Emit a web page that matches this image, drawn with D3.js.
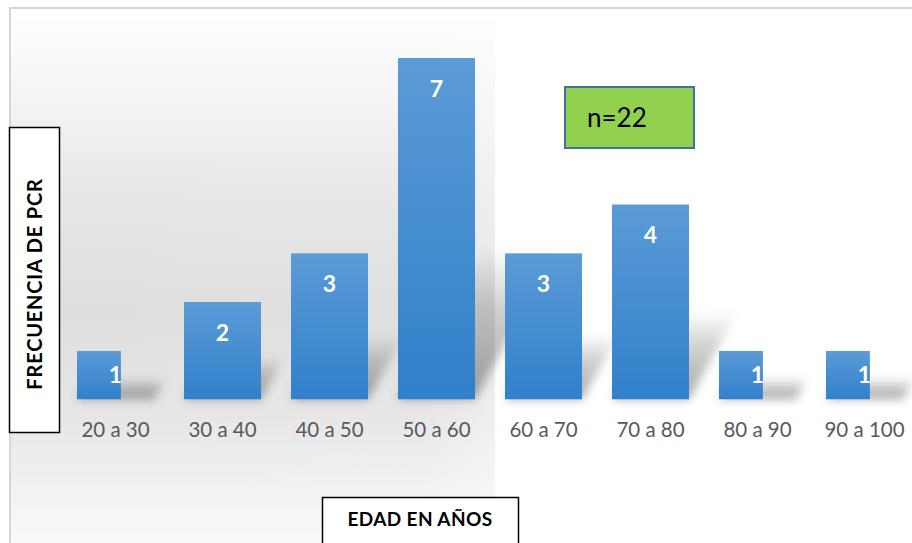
<!DOCTYPE html>
<html>
<head>
<meta charset="utf-8">
<script src="https://cdn.jsdelivr.net/npm/d3@7"></script>
<style>
  html, body { margin: 0; padding: 0; background: #fff; }
  svg { display: block; }
</style>
</head>
<body>
<svg id="chart" width="912" height="543"></svg>
<script>
// Age groups and PCR counts per group
const categories = ["20 a 30", "30 a 40", "40 a 50", "50 a 60", "60 a 70", "70 a 80", "80 a 90", "90 a 100"];
const frequencies = [1, 2, 3, 7, 3, 4, 1, 1];
const sampleLabel = "n=22";
const yTitle = "FRECUENCIA DE PCR";
const xTitle = "EDAD EN AÑOS";

const svg = d3.select("#chart");
const defs = svg.append("defs");

// Backdrop panel gradient (light at the top, darker mid-height, fading down)
const panelGrad = defs.append("linearGradient")
  .attr("id", "panelGrad").attr("x1", 0).attr("y1", 0).attr("x2", 0).attr("y2", 1);
[[0, "#fefefe"], [0.12, "#f6f6f6"], [0.35, "#e6e6e6"], [0.55, "#dedede"], [0.75, "#e6e6e6"], [0.88, "#f1f1f1"], [1, "#fbfbfb"]]
  .forEach(([o, c]) => panelGrad.append("stop").attr("offset", o).attr("stop-color", c));

const panelSide = defs.append("linearGradient")
  .attr("id", "panelSide").attr("x1", 0).attr("y1", 0).attr("x2", 1).attr("y2", 0);
[[0, "#fff", 0], [0.85, "#fff", 0.05], [1, "#fff", 0.35]]
  .forEach(([o, c, a]) => panelSide.append("stop").attr("offset", o).attr("stop-color", c).attr("stop-opacity", a));

// Bar fill
const barGrad = defs.append("linearGradient")
  .attr("id", "barGrad").attr("x1", 0).attr("y1", 0).attr("x2", 0).attr("y2", 1);
barGrad.append("stop").attr("offset", 0).attr("stop-color", "#5b9bd6");
barGrad.append("stop").attr("offset", 1).attr("stop-color", "#3180cb");

// Cast shadow fill, fading upward
const shadowGrad = defs.append("linearGradient")
  .attr("id", "shadowGrad").attr("x1", 0).attr("y1", 1).attr("x2", 0).attr("y2", 0);
shadowGrad.append("stop").attr("offset", 0).attr("stop-color", "#000").attr("stop-opacity", 0.34);
shadowGrad.append("stop").attr("offset", 0.6).attr("stop-color", "#000").attr("stop-opacity", 0.18);
shadowGrad.append("stop").attr("offset", 1).attr("stop-color", "#000").attr("stop-opacity", 0);

defs.append("filter").attr("id", "soft").attr("x", "-50%").attr("y", "-50%").attr("width", "200%").attr("height", "200%")
  .append("feGaussianBlur").attr("stdDeviation", 5);

// Outer frame
svg.append("rect").attr("x", 10).attr("y", 8).attr("width", 920).attr("height", 560)
  .attr("fill", "#fff").attr("stroke", "#d6d6d6").attr("stroke-width", 2);

// Shaded backdrop behind the left part of the plot
svg.append("rect").attr("x", 11).attr("y", 20).attr("width", 484).attr("height", 530).attr("fill", "url(#panelGrad)");
svg.append("rect").attr("x", 11).attr("y", 20).attr("width", 484).attr("height", 530).attr("fill", "url(#panelSide)");

// Scales
const x = d3.scaleBand().domain(categories).range([62, 918]).paddingInner(0.28).paddingOuter(0.14);
const y = d3.scaleLinear().domain([0, 7]).range([399.5, 58]);
const bw = x.bandwidth();
const base = y(0);

const data = categories.map((c, i) => ({ cat: c, val: frequencies[i], i }));
const minVal = d3.min(frequencies);
// single-count bars are rendered cut short on the right
const visibleWidth = d => d.val === minVal ? bw * 0.57 : bw;

// Perspective shadows
const shRise = 0.45, shShift = 0.25;
svg.append("g").selectAll("path").data(data).join("path")
  .attr("d", d => {
    const x0 = x(d.cat), x1 = x0 + bw, h = base - y(d.val);
    const dx = h * shShift, dy = h * shRise;
    return `M${x0},${base} L${x1},${base} L${x1 + dx},${base - dy} L${x0 + dx},${base - dy} Z`;
  })
  .attr("fill", "url(#shadowGrad)")
  .attr("filter", "url(#soft)");

// Clip regions for each bar
data.forEach(d => {
  defs.append("clipPath").attr("id", "clip" + d.i)
    .append("rect")
    .attr("x", x(d.cat)).attr("y", y(d.val))
    .attr("width", visibleWidth(d)).attr("height", base - y(d.val));
});

const barG = svg.append("g").selectAll("g").data(data).join("g")
  .attr("clip-path", d => `url(#clip${d.i})`);

barG.append("rect")
  .attr("x", d => x(d.cat)).attr("y", d => y(d.val))
  .attr("width", bw).attr("height", d => base - y(d.val))
  .attr("fill", "url(#barGrad)");

// Value labels inside the bars
barG.append("text")
  .attr("x", d => x(d.cat) + bw / 2)
  .attr("y", d => Math.min(y(d.val) + 39, (y(d.val) + base) / 2 + 8))
  .attr("text-anchor", "middle")
  .attr("font-family", "Lato, 'Open Sans', sans-serif")
  .attr("font-weight", 700).attr("font-size", 23)
  .attr("fill", "#fff")
  .text(d => d.val);

// Category axis
const axis = svg.append("g").attr("transform", `translate(0,${base})`)
  .call(d3.axisBottom(x).tickSize(0).tickPadding(23));
axis.select(".domain").remove();
axis.selectAll("text")
  .attr("font-family", "Lato, 'Open Sans', sans-serif")
  .attr("font-size", 20.5).attr("fill", "#595959");

// Y title box
svg.append("rect").attr("x", 9.5).attr("y", 127.5).attr("width", 50).attr("height", 305)
  .attr("fill", "#fff").attr("stroke", "#000").attr("stroke-width", 1.5);
svg.append("text")
  .attr("transform", "translate(42,284) rotate(-90)")
  .attr("text-anchor", "middle")
  .attr("font-family", "Lato, 'Open Sans', sans-serif")
  .attr("font-weight", 700).attr("font-size", 20).attr("letter-spacing", 0.8).attr("fill", "#000")
  .text(yTitle);

// X title box
svg.append("rect").attr("x", 322.5).attr("y", 497.5).attr("width", 196).attr("height", 60)
  .attr("fill", "#fff").attr("stroke", "#000").attr("stroke-width", 1.5);
svg.append("text")
  .attr("x", 420).attr("y", 526)
  .attr("text-anchor", "middle")
  .attr("font-family", "Lato, 'Open Sans', sans-serif")
  .attr("font-weight", 700).attr("font-size", 19).attr("letter-spacing", 0.4).attr("fill", "#000")
  .text(xTitle);

// Sample size badge
svg.append("rect").attr("x", 565).attr("y", 87).attr("width", 129).attr("height", 61)
  .attr("fill", "#92d050").attr("stroke", "#41719c").attr("stroke-width", 2);
svg.append("text")
  .attr("x", 587).attr("y", 127)
  .attr("font-family", "Lato, 'Open Sans', sans-serif")
  .attr("font-size", 26).attr("fill", "#000")
  .text(sampleLabel);
</script>
</body>
</html>
